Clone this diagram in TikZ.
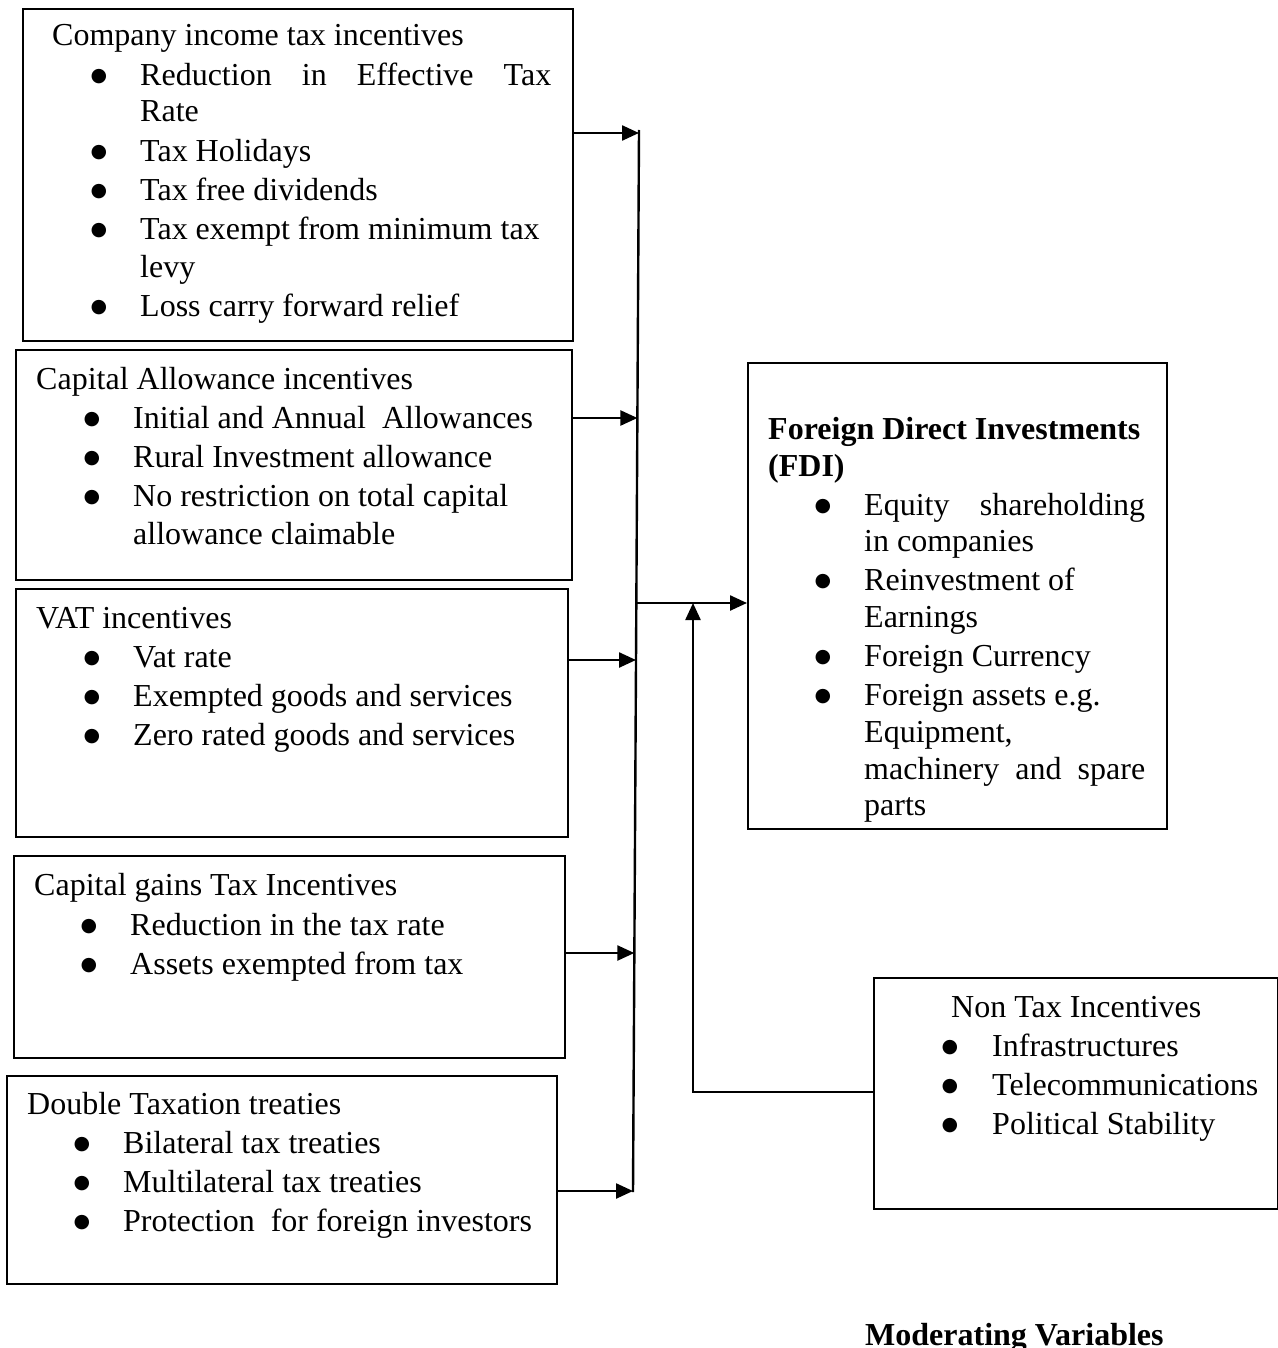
\documentclass[tikz,border=0pt]{standalone}
\usepackage{fontspec}
\setmainfont{Liberation Serif}
\newfontfamily\bulfont{DejaVu Sans}
\usetikzlibrary{arrows.meta}
\tikzset{
  box/.style={draw=black, line width=2pt, rectangle, inner sep=0pt, anchor=north west},
  txt/.style={inner sep=0pt, anchor=base west, font=\fontsize{32pt}{38pt}\selectfont},
  bul/.style={inner sep=0pt, anchor=base, font=\bulfont\fontsize{19pt}{19pt}\selectfont},
  conn/.style={line width=2.4pt, draw=black},
  arr/.style={conn, -{Triangle[length=17pt,width=15pt]}}
}
\newcommand\blt[5]{%
  \node[bul] (#1b) at (#2,#4-4) {●};
  \node[txt] (#1) at (#3,#4) {#5};}
\begin{document}
\begin{tikzpicture}[x=1pt,y=-1pt]
\useasboundingbox (0,0) rectangle (1277,1348);
% boxes
\node[box, minimum width=550pt, minimum height=332pt] (b1) at (22,8) {};
\node[box, minimum width=556pt, minimum height=230pt] (b2) at (15,349) {};
\node[box, minimum width=552pt, minimum height=248pt] (b3) at (15,588) {};
\node[box, minimum width=551pt, minimum height=202pt] (b4) at (13,855) {};
\node[box, minimum width=550pt, minimum height=208pt] (b5) at (6,1075) {};
\node[box, minimum width=419pt, minimum height=466pt] (fdi) at (747,362) {};
\node[box, minimum width=404pt, minimum height=231pt] (ntx) at (873,977) {};
% box 1 text
\node[txt] (t1) at (52,46) {Company income tax incentives};
\blt{c1}{99}{140}{86}{\makebox[411pt][s]{Reduction in Effective Tax}}
\node[txt] (c1x) at (140,122) {Rate};
\blt{c2}{99}{140}{162}{Tax Holidays}
\blt{c3}{99}{140}{201}{Tax free dividends}
\blt{c4}{99}{140}{240}{Tax exempt from minimum tax}
\node[txt] (c4x) at (140,277) {levy};
\blt{c5}{99}{140}{316}{Loss carry forward relief}
% box 2 text
\node[txt] (t2) at (36,389) {Capital Allowance incentives};
\blt{d1}{92}{133}{428}{Initial and Annual\ \ Allowances}
\blt{d2}{92}{133}{467}{Rural Investment allowance}
\blt{d3}{92}{133}{506}{No restriction on total capital}
\node[txt] (d3x) at (133,544) {allowance claimable};
% box 3 text
\node[txt] (t3) at (36,628) {VAT incentives};
\blt{e1}{92}{133}{667}{Vat rate}
\blt{e2}{92}{133}{706}{Exempted goods and services}
\blt{e3}{92}{133}{745}{Zero rated goods and services}
% box 4 text
\node[txt] (t4) at (34,895) {Capital gains Tax Incentives};
\blt{f1}{89}{130}{935}{Reduction in the tax rate}
\blt{f2}{89}{130}{974}{Assets exempted from tax}
% box 5 text
\node[txt] (t5) at (27,1114) {Double Taxation treaties};
\blt{g1}{82}{123}{1153}{Bilateral tax treaties}
\blt{g2}{82}{123}{1192}{Multilateral tax treaties}
\blt{g3}{82}{123}{1231}{Protection\ \ for foreign investors}
% FDI text
\node[txt, font=\fontsize{32pt}{38pt}\selectfont\bfseries] (t6) at (768,439) {Foreign Direct Investments};
\node[txt, font=\fontsize{32pt}{38pt}\selectfont\bfseries] (t6x) at (768,476) {(FDI)};
\blt{h1}{823}{864}{515}{\makebox[281pt][s]{Equity shareholding}}
\node[txt] (h1x) at (864,551) {in companies};
\blt{h2}{823}{864}{590}{Reinvestment of}
\node[txt] (h2x) at (864,627) {Earnings};
\blt{h3}{823}{864}{666}{Foreign Currency}
\blt{h4}{823}{864}{705}{Foreign assets e.g.}
\node[txt] (h4x) at (864,742) {Equipment,};
\node[txt] (h4y) at (864,779) {\makebox[281pt][s]{machinery and spare}};
\node[txt] (h4z) at (864,815) {parts};
% Non tax text
\node[txt] (t7) at (951,1017) {Non Tax Incentives};
\blt{k1}{950}{992}{1056}{Infrastructures}
\blt{k2}{950}{992}{1095}{Telecommunications}
\blt{k3}{950}{992}{1134}{Political Stability}
% moderating
\node[txt, font=\fontsize{32pt}{38pt}\selectfont\bfseries] (mod) at (865,1345) {Moderating Variables};
% bus
\coordinate (busT) at (639,130);
\coordinate (busB) at (633,1192);
\coordinate (a1) at (639,133);
\coordinate (a2) at (637.4,418);
\coordinate (a3) at (636,660);
\coordinate (a4) at (634.3,953);
\coordinate (a5) at (633,1191);
\coordinate (am) at (637,603);
\coordinate (up) at (693,603);
\coordinate (corner) at (693,1092);
\draw[conn] (busT) -- (busB);
\draw[arr] (b1.east |- a1) -- (a1);
\draw[arr] (b2.east |- a2) -- (a2);
\draw[arr] (b3.east |- a3) -- (a3);
\draw[arr] (b4.east |- a4) -- (a4);
\draw[arr] (b5.east |- a5) -- (a5);
\draw[arr] (am) -- (fdi.west |- am);
\draw[arr] (ntx.west |- corner) -- (corner) -- (up);
\end{tikzpicture}
\end{document}
